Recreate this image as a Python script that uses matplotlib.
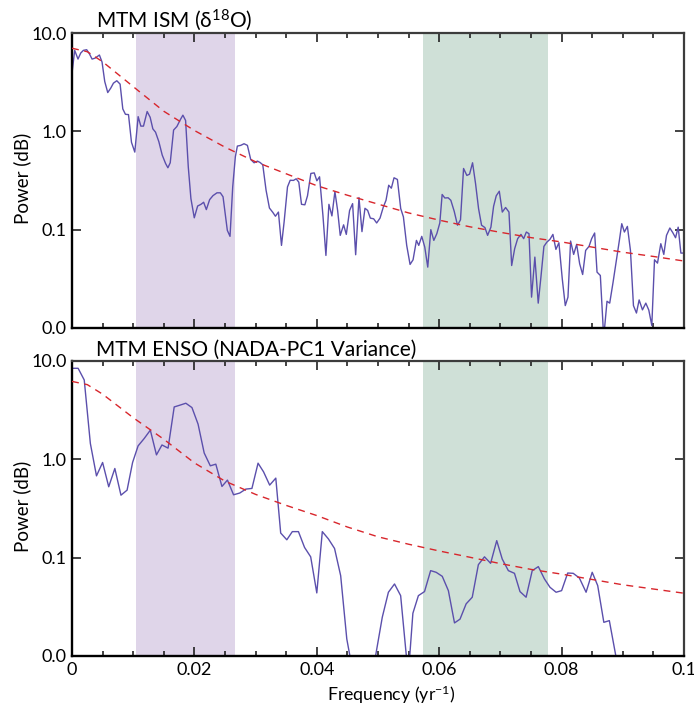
import matplotlib
matplotlib.use("Agg")
import matplotlib.pyplot as plt
import matplotlib.ticker as mticker

plt.rcParams["font.family"] = ["Lato", "Open Sans", "DejaVu Sans"]
plt.rcParams["mathtext.default"] = "regular"

# ---------------------------------------------------------------------------
# Data (frequency in yr^-1, power)
# ---------------------------------------------------------------------------

ISM_FREQ = [
    0.0, 0.00044, 0.00098, 0.00142, 0.00186, 0.0024, 0.00284, 0.00328, 0.00377, 0.00415,
    0.00448, 0.00491, 0.00535, 0.00584, 0.00633, 0.00677, 0.00732, 0.00786, 0.0083, 0.00873,
    0.00923, 0.00972, 0.01026, 0.01081, 0.01125, 0.01168, 0.01228, 0.01277, 0.01321, 0.01365,
    0.01419, 0.01474, 0.01529, 0.01567, 0.01605, 0.0166, 0.01714, 0.01769, 0.01812, 0.01856,
    0.019, 0.01943, 0.01998, 0.02053, 0.02107, 0.02151, 0.02195, 0.02249, 0.02304, 0.02369,
    0.02424, 0.02468, 0.025, 0.02538, 0.02582, 0.02626, 0.02669, 0.02702, 0.02757, 0.02811,
    0.02866, 0.0292, 0.02975, 0.0303, 0.03073, 0.03117, 0.03171, 0.03226, 0.03281, 0.03324,
    0.03373, 0.03423, 0.03466, 0.03521, 0.03565, 0.03619, 0.03663, 0.03706, 0.0375, 0.03805,
    0.03848, 0.03903, 0.03958, 0.04001, 0.04045, 0.041, 0.04149, 0.04198, 0.04247, 0.04296,
    0.0434, 0.04383, 0.04438, 0.04482, 0.04536, 0.04585, 0.04635, 0.04689, 0.04738, 0.04787,
    0.04831, 0.04875, 0.04929, 0.04978, 0.05033, 0.05087, 0.05131, 0.05175, 0.05218, 0.05262,
    0.05317, 0.05371, 0.05415, 0.05469, 0.05524, 0.05573, 0.05628, 0.05666, 0.05715, 0.05764,
    0.05813, 0.05863, 0.05912, 0.05961, 0.0601, 0.06048, 0.06092, 0.06146, 0.0619, 0.06245,
    0.06299, 0.06348, 0.06398, 0.06452, 0.06496, 0.06545, 0.06594, 0.06643, 0.06692, 0.06747,
    0.06791, 0.06845, 0.06889, 0.06932, 0.06982, 0.07031, 0.07085, 0.0714, 0.07184, 0.07233,
    0.07282, 0.07336, 0.0738, 0.07424, 0.07467, 0.07509, 0.07563, 0.07618, 0.07662, 0.07711,
    0.0776, 0.07809, 0.07858, 0.07907, 0.07956, 0.08011, 0.0806, 0.08104, 0.08147, 0.08197,
    0.08246, 0.08295, 0.08344, 0.08393, 0.08448, 0.08491, 0.0854, 0.08579, 0.08633, 0.08688,
    0.08742, 0.08786, 0.08841, 0.08895, 0.08944, 0.08983, 0.09026, 0.09075, 0.09125, 0.09174,
    0.09223, 0.09267, 0.09321, 0.09376, 0.09425, 0.09474, 0.09518, 0.09567, 0.09621, 0.0967,
    0.09714, 0.09769, 0.09818, 0.09862, 0.09905, 0.09949, 0.1,
]
ISM_POWER = [
    3.9, 6.66, 5.43, 6.25, 6.66, 6.76, 6.15, 5.43, 5.55, 5.78,
    5.97, 5.06, 3.21, 2.48, 2.75, 3.09, 3.27, 3.02, 1.69, 1.49,
    1.48, 0.773, 0.615, 1.41, 1.13, 1.13, 1.59, 1.39, 1.06, 0.98,
    0.785, 0.574, 0.471, 0.426, 0.479, 1.03, 1.12, 1.31, 1.46, 1.29,
    0.435, 0.207, 0.132, 0.174, 0.181, 0.19, 0.16, 0.202, 0.222, 0.237,
    0.237, 0.216, 0.151, 0.0984, 0.0855, 0.272, 0.551, 0.708, 0.72, 0.748,
    0.72, 0.518, 0.479, 0.498, 0.482, 0.457, 0.252, 0.166, 0.15, 0.137,
    0.151, 0.0692, 0.12, 0.272, 0.318, 0.317, 0.329, 0.304, 0.181, 0.179,
    0.221, 0.373, 0.378, 0.314, 0.345, 0.14, 0.0547, 0.181, 0.138, 0.244,
    0.157, 0.0875, 0.112, 0.0895, 0.157, 0.184, 0.0556, 0.212, 0.0955, 0.165,
    0.157, 0.131, 0.129, 0.117, 0.131, 0.17, 0.199, 0.283, 0.264, 0.337,
    0.324, 0.164, 0.135, 0.0692, 0.0443, 0.0494, 0.0778, 0.0692, 0.0855, 0.0665,
    0.0416, 0.1, 0.0778, 0.091, 0.117, 0.228, 0.21, 0.211, 0.199, 0.154,
    0.111, 0.126, 0.419, 0.356, 0.367, 0.479, 0.294, 0.164, 0.111, 0.105,
    0.0875, 0.106, 0.173, 0.221, 0.246, 0.151, 0.168, 0.151, 0.0432, 0.064,
    0.081, 0.0895, 0.081, 0.0946, 0.091, 0.0206, 0.0526, 0.0179, 0.0329, 0.0676,
    0.0748, 0.0796, 0.0895, 0.063, 0.0736, 0.0316, 0.0169, 0.0206, 0.0766, 0.056,
    0.0708, 0.045, 0.035, 0.0615, 0.0676, 0.081, 0.0925, 0.037, 0.0342, 0.008,
    0.0187, 0.0179, 0.0292, 0.0486, 0.0778, 0.115, 0.0946, 0.108, 0.0615, 0.0169,
    0.0142, 0.0193, 0.0153, 0.0179, 0.0152, 0.0106, 0.0494, 0.0457, 0.072, 0.056,
    0.0875, 0.104, 0.093, 0.0828, 0.106, 0.0578, 0.0578,
]

ENSO_FREQ = [
    0.0, 0.001, 0.002, 0.003, 0.004, 0.005, 0.006, 0.007, 0.008, 0.009,
    0.0099, 0.0108, 0.0118, 0.0128, 0.0138, 0.0147, 0.0157, 0.0167, 0.0176, 0.0186,
    0.0196, 0.0206, 0.0216, 0.0226, 0.0235, 0.0245, 0.0254, 0.0264, 0.0274, 0.0284,
    0.0294, 0.0304, 0.0313, 0.0323, 0.0333, 0.0341, 0.0351, 0.036, 0.037, 0.038,
    0.039, 0.04, 0.0409, 0.0419, 0.0429, 0.0439, 0.0449, 0.0457, 0.047, 0.048,
    0.0496, 0.0507, 0.0517, 0.0527, 0.0537, 0.0546, 0.055, 0.0557, 0.0566, 0.0576,
    0.0586, 0.0595, 0.0605, 0.0615, 0.0625, 0.0634, 0.0644, 0.0654, 0.0664, 0.0674,
    0.0684, 0.0694, 0.0703, 0.0713, 0.0723, 0.0732, 0.0742, 0.0752, 0.0762, 0.0772,
    0.0781, 0.0791, 0.08, 0.081, 0.0819, 0.0829, 0.084, 0.085, 0.0859, 0.0869,
    0.0878, 0.089, 0.0905, 0.095, 0.1,
]
ENSO_POWER = [
    8.43, 8.43, 6.41, 1.45, 0.679, 0.929, 0.526, 0.807, 0.432, 0.486,
    0.929, 1.37, 1.63, 1.98, 1.11, 1.4, 1.3, 3.41, 3.55, 3.72,
    3.36, 2.28, 1.16, 0.859, 0.893, 0.53, 0.615, 0.436, 0.454, 0.498,
    0.506, 0.914, 0.746, 0.547, 0.644, 0.178, 0.152, 0.184, 0.184, 0.127,
    0.102, 0.0438, 0.184, 0.155, 0.124, 0.0656, 0.0149, 0.008, 0.004, 0.004,
    0.01, 0.0248, 0.0445, 0.054, 0.0411, 0.0105, 0.007, 0.0272, 0.0411, 0.0452,
    0.0738, 0.071, 0.0646, 0.0462, 0.0217, 0.0237, 0.0339, 0.0396, 0.0849, 0.102,
    0.0876, 0.149, 0.0968, 0.0738, 0.0693, 0.0452, 0.0396, 0.0738, 0.0811, 0.0607,
    0.05, 0.0445, 0.0462, 0.0698, 0.0693, 0.0622, 0.0445, 0.071, 0.052, 0.022,
    0.0229, 0.009, 0.004, 0.004, 0.004,
]

# red-noise reference curves
RED_FREQ = [0.0, 0.0025, 0.005, 0.01, 0.015, 0.02, 0.025, 0.03, 0.035, 0.04, 0.045,
            0.05, 0.055, 0.06, 0.065, 0.07, 0.075, 0.08, 0.085, 0.09, 0.095, 0.1]
ISM_RED = [7.0, 6.45, 5.1, 2.85, 1.6, 1.02, 0.69, 0.49, 0.37, 0.28, 0.224,
           0.182, 0.148, 0.125, 0.107, 0.094, 0.083, 0.075, 0.0665, 0.059, 0.0534, 0.048]
ENSO_RED = [6.2, 5.75, 4.6, 2.65, 1.6, 0.92, 0.6, 0.44, 0.34, 0.268, 0.205,
            0.163, 0.137, 0.117, 0.101, 0.087, 0.076, 0.068, 0.06, 0.053, 0.048, 0.0435]

# shaded frequency bands
BAND_LOW = (0.0104, 0.0266)
BAND_HIGH = (0.0573, 0.0777)

Y_TICKS = [10, 1, 0.1, 0.01]
Y_LABELS = ["10.0", "1.0", "0.1", "0.0"]
X_TICKS = [0, 0.02, 0.04, 0.06, 0.08, 0.1]
X_LABELS = ["0", "0.02", "0.04", "0.06", "0.08", "0.1"]

LINE_COLOR = "#5b4fac"
RED_COLOR = "#d8262c"
PURPLE_BAND = "#dfd5e9"
GREEN_BAND = "#cfe0d7"

W, H = 694, 713


def style_axes(ax, show_xlabels):
    ax.set_yscale("log")
    ax.set_xlim(0, 0.1)
    ax.set_ylim(0.01, 10)
    ax.yaxis.set_major_locator(mticker.FixedLocator(Y_TICKS))
    ax.yaxis.set_major_formatter(mticker.FixedFormatter(Y_LABELS))
    ax.yaxis.set_minor_locator(mticker.NullLocator())
    ax.xaxis.set_major_locator(mticker.FixedLocator(X_TICKS))
    ax.xaxis.set_minor_locator(mticker.MultipleLocator(0.005))
    if show_xlabels:
        ax.xaxis.set_major_formatter(mticker.FixedFormatter(X_LABELS))
    else:
        ax.xaxis.set_major_formatter(mticker.NullFormatter())
    ax.tick_params(which="both", direction="in", top=True, right=True,
                   labelsize=13, width=1.2, color="#222222", pad=4)
    ax.tick_params(which="major", length=6.5)
    ax.tick_params(which="minor", length=3.5)
    for side in ("left", "bottom"):
        ax.spines[side].set_color("black")
        ax.spines[side].set_linewidth(1.7)
    for side in ("top", "right"):
        ax.spines[side].set_color("#3c3c3c")
        ax.spines[side].set_linewidth(1.6)


def draw_panel(ax, freq, power, red, title, show_xlabels):
    ax.axvspan(*BAND_LOW, color=PURPLE_BAND, lw=0, zorder=0)
    ax.axvspan(*BAND_HIGH, color=GREEN_BAND, lw=0, zorder=0)
    ax.plot(freq, power, color=LINE_COLOR, lw=1.0, zorder=2)
    ax.plot(RED_FREQ, red, color=RED_COLOR, lw=1.0, dashes=(5, 4), zorder=3)
    style_axes(ax, show_xlabels)
    ax.text(0.04, 1.018, title, transform=ax.transAxes, ha="left", va="baseline",
            fontsize=15)


fig = plt.figure(figsize=(W / 100, H / 100), dpi=100)
left, width = 72 / W, 612 / W
ax_top = fig.add_axes([left, 1 - 328 / H, width, 295 / H])
ax_bot = fig.add_axes([left, 1 - 656 / H, width, 295 / H])

draw_panel(ax_top, ISM_FREQ, ISM_POWER, ISM_RED, "MTM ISM (δ$^{18}$O)", False)
draw_panel(ax_bot, ENSO_FREQ, ENSO_POWER, ENSO_RED, "MTM ENSO (NADA-PC1 Variance)", True)

fig.text(22 / W, 1 - 178 / H, "Power (dB)", rotation=90, ha="center", va="center", fontsize=13.5)
fig.text(22 / W, 1 - 506 / H, "Power (dB)", rotation=90, ha="center", va="center", fontsize=13.5)
fig.text(391 / W, 1 - 695 / H, "Frequency (yr$^{-1}$)", ha="center", va="center", fontsize=12.8)

fig.savefig("out.png", dpi=100)
